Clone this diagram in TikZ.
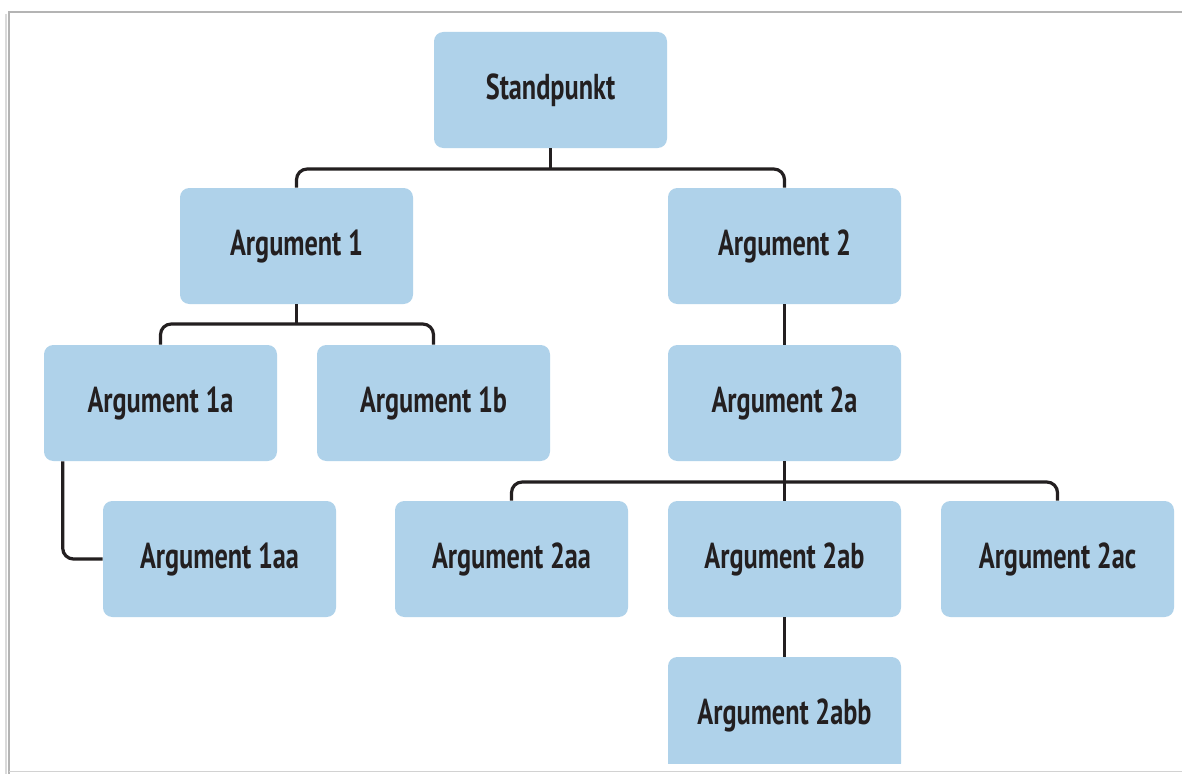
\documentclass[tikz,border=0pt]{standalone}
\usepackage{fontspec}
\newfontfamily\boxfont[FakeStretch=0.73]{PT Sans}
\definecolor{boxblue}{HTML}{AFD2EA}
\definecolor{ink}{HTML}{231F20}
\definecolor{framegray}{HTML}{B4B4B4}
\begin{document}
\begin{tikzpicture}[x=0.75pt,y=-0.75pt,
  argbox/.style={rectangle, rounded corners=7pt, fill=boxblue, draw=none,
    minimum width=174.75pt, minimum height=87pt, inner sep=0pt,
    font=\boxfont\bfseries\fontsize{27}{30}\selectfont, text=ink},
  conn/.style={draw=ink, line width=2.4pt, rounded corners=8pt}]
\useasboundingbox[fill=white] (0,0) rectangle (1182,774);

% page frame
\draw[framegray, line width=1.2pt] (1182,12) -- (9,12) -- (9,774);
\draw[framegray!50, line width=1pt] (6,14) -- (6,774);
\draw[framegray!60, line width=0.8pt] (9,771.5) -- (1182,771.5);

% boxes
\node[argbox] (sp)   at (550.5, 90)  {Standpunkt};
\node[argbox] (a1)   at (296.5, 246) {Argument 1};
\node[argbox] (a2)   at (784.5, 246) {Argument 2};
\node[argbox] (a1a)  at (160.5, 403) {Argument 1a};
\node[argbox] (a1b)  at (433.5, 403) {Argument 1b};
\node[argbox] (a2a)  at (784.5, 403) {Argument 2a};
\node[argbox] (a1aa) at (219.5, 559) {Argument 1aa};
\node[argbox] (a2aa) at (511.5, 559) {Argument 2aa};
\node[argbox] (a2ab) at (784.5, 559) {Argument 2ab};
\node[argbox] (a2ac) at (1057.5, 559) {Argument 2ac};
\begin{scope}
  \clip (0,0) rectangle (1182,763);
  \node[argbox] (a2abb) at (784.5, 715) {Argument 2abb};
\end{scope}

% bus points
\coordinate (b0) at (550.5, 169);
\coordinate (b1) at (296.5, 324);
\coordinate (b2) at (784.5, 482);

% connectors
\draw[conn] (a1.north) |- (b0) -| (a2.north);
\draw[conn] (sp.south) -- (b0);
\draw[conn] (a1a.north) |- (b1) -| (a1b.north);
\draw[conn] (a1.south) -- (b1);
\draw[conn] (a2.south) -- (a2a.north);
\draw[conn] (a2aa.north) |- (b2) -| (a2ac.north);
\draw[conn] (a2a.south) -- (a2ab.north);
\draw[conn] ([xshift=14.25pt]a1a.south west) |- (a1aa.west);
\draw[conn] (a2ab.south) -- (a2abb.north);
\end{tikzpicture}
\end{document}
